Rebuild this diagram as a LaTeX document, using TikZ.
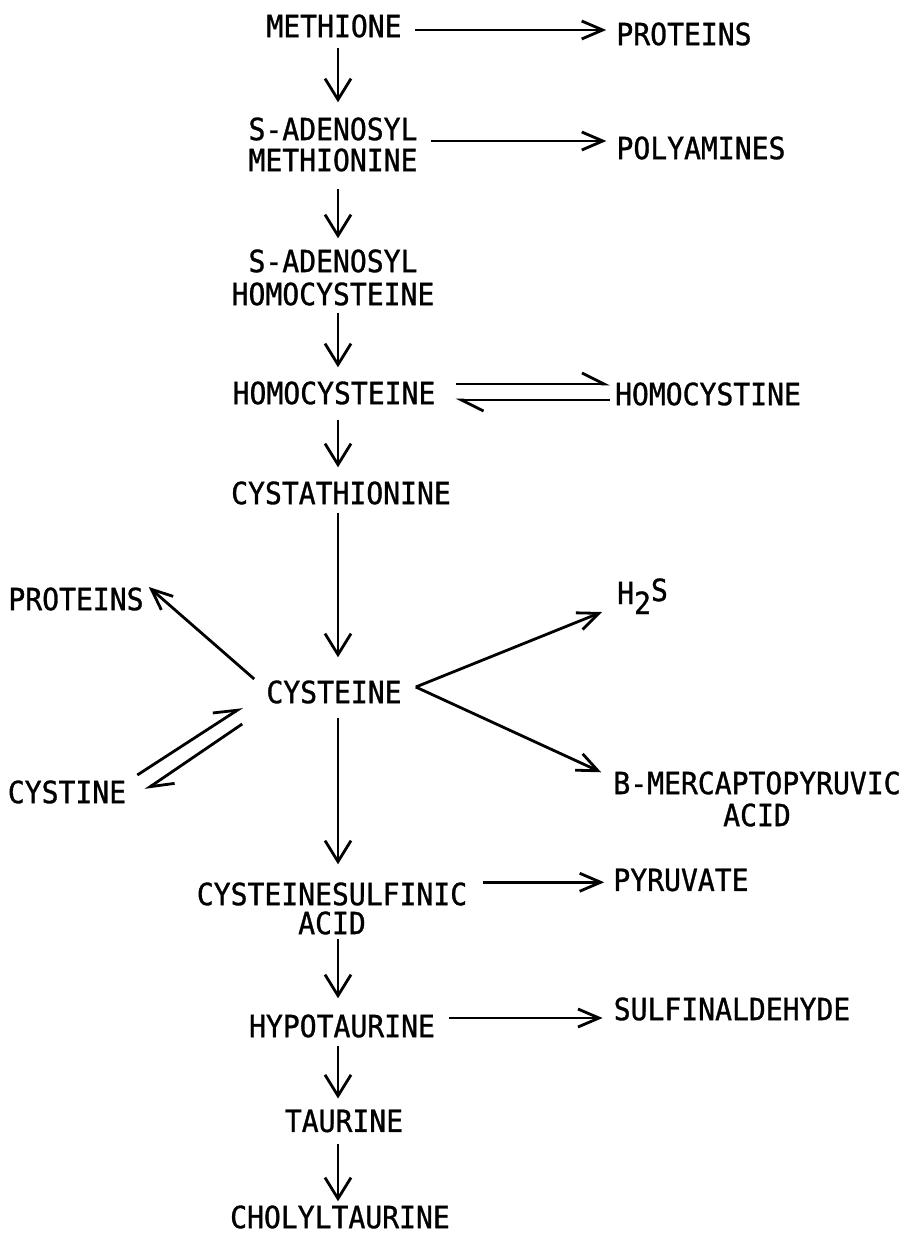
\documentclass[tikz,border=0pt]{standalone}
\usepackage{fontspec}
\setmainfont{DejaVu Sans Mono}[FakeBold=1,FakeStretch=0.92]
\usetikzlibrary{arrows.meta,calc}
\begin{document}
\begin{tikzpicture}[x=1pt,y=-1pt,
  lbl/.style={inner sep=0pt, font=\fontsize{30.5}{31}\selectfont, align=center},
  varr/.style={-{Straight Barb[length=21pt,width=26pt]}, line width=2.8pt},
  harr/.style={-{Straight Barb[length=21pt,width=18pt]}, line width=2.8pt},
  harp/.style={-{Straight Barb[left,length=22pt,width=22pt]}, line width=2.8pt}]
\fill[white] (0,0) rectangle (901,1236);
\coordinate (spine) at (338,0);
% nodes
\node[lbl] (meth)  at (334,26)  {METHIONE};
\node[lbl] (prot1) at (684,34)  {PROTEINS};
\node[lbl, font=\fontsize{30.5}{31}\selectfont] (sam) at (333,144.5) {S-ADENOSYL\\METHIONINE};
\node[lbl] (poly)  at (701,148) {POLYAMINES};
\node[lbl, font=\fontsize{30.5}{33}\selectfont] (sah) at (333,277.5) {S-ADENOSYL\\HOMOCYSTEINE};
\node[lbl] (hcys)  at (334,393) {HOMOCYSTEINE};
\node[lbl] (hcyst) at (708,394) {HOMOCYSTINE};
\node[lbl] (cysta) at (341,493) {CYSTATHIONINE};
\node[lbl] (cys)   at (334,692) {CYSTEINE};
\node[lbl] (protL) at (76,599)  {PROTEINS};
\node[lbl, anchor=base west] (h2s) at (617,604) {H\raisebox{-10pt}{2}\raisebox{3pt}{S}};
\node[lbl, font=\fontsize{30.5}{32}\selectfont] (bmerc) at (757,799) {B-MERCAPTOPYRUVIC\\ACID};
\node[lbl] (cystine) at (67,792) {CYSTINE};
\node[lbl, font=\fontsize{30.5}{29}\selectfont] (csa) at (332,908.5) {CYSTEINESULFINIC\\ACID};
\node[lbl] (pyr)   at (681,880) {PYRUVATE};
\node[lbl] (hypo)  at (342,1026) {HYPOTAURINE};
\node[lbl] (sulf)  at (732,1009) {SULFINALDEHYDE};
\node[lbl] (taur)  at (344,1121) {TAURINE};
\node[lbl] (chol)  at (340,1217) {CHOLYLTAURINE};
% main vertical chain
\draw[varr] ($(meth.south -| spine)+(0,10)$) -- ($(sam.north -| spine)+(0,-15)$);
\draw[varr] ($(sam.south -| spine)+(0,17)$) -- ($(sah.north -| spine)+(0,-11)$);
\draw[varr] ($(sah.south -| spine)+(0,7)$) -- ($(hcys.north -| spine)+(0,-14)$);
\draw[varr] ($(hcys.south -| spine)+(0,15)$) -- ($(cysta.north -| spine)+(0,-14)$);
\draw[varr] ($(cysta.south -| spine)+(0,8)$) -- ($(cys.north -| spine)+(0,-23)$);
\draw[varr] ($(cys.south -| spine)+(0,14)$) -- ($(csa.north -| spine)+(0,-18)$);
\draw[varr] ($(csa.south -| spine)+(0,4)$) -- ($(hypo.north -| spine)+(0,-16)$);
\draw[varr] ($(hypo.south -| spine)+(0,8)$) -- ($(taur.north -| spine)+(0,-11)$);
\draw[varr] ($(taur.south -| spine)+(0,11)$) -- ($(chol.north -| spine)+(0,-4)$);
% side branches
\draw[harr] ($(meth.east)+(13,4)$) -- ($(meth.east -| prot1.west)+(-10,4)$);
\draw[harr] ($(sam.east)+(13,-3.5)$) -- ($(sam.east -| poly.west)+(-10,-3.5)$);
\draw[harp] ($(hcys.east)+(20,-9)$) -- ($(hcys.east -| hcyst.west)+(-5,-9)$);
\draw[harp] ($(hcys.east -| hcyst.west)+(-5,7)$) -- ($(hcys.east)+(20,7)$);
\draw[harr] ($(csa.north east)+(16,0)$) -- ($(csa.north east -| pyr.west)+(-9,0)$);
\draw[harr] ($(hypo.east)+(14,-8)$) -- ($(hypo.east -| sulf.west)+(-11,-8)$);
% around cysteine
\draw[harr] ($(cys.west)+(-12,-13)$) -- ($(protL.east)+(5,-12)$);
\draw[harr] ($(cys.east)+(14,-5)$) -- ($(h2s.base west)+(-15,8)$);
\draw[harr] ($(cys.east)+(14,-5)$) -- ($(bmerc.north west)+(-12,1)$);
\draw[harp] ($(cystine.east)+(11,-17)$) -- ($(cys.west)+(-24,15)$);
\draw[harp] ($(cys.west)+(-24,32)$) -- ($(cystine.east)+(19,-2)$);
\end{tikzpicture}
\end{document}
